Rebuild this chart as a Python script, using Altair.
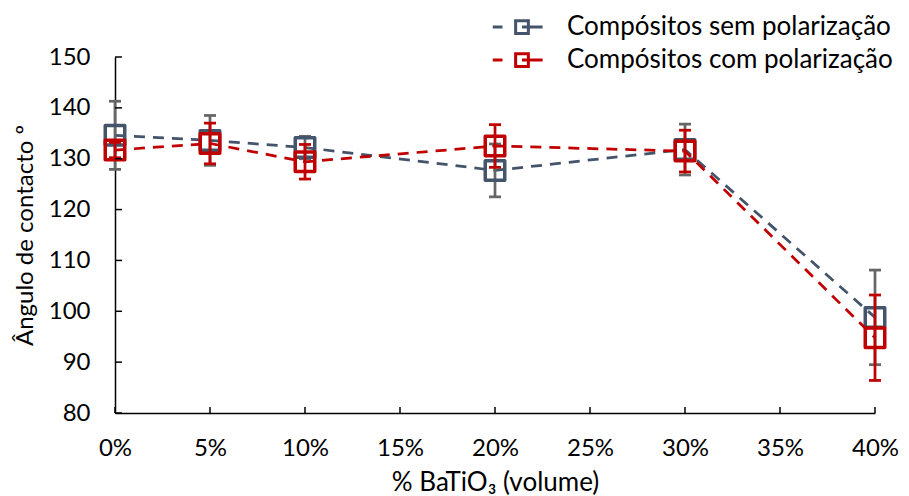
import altair as alt
import pandas as pd

# Contact angle vs BaTiO3 volume fraction, with and without poling
concentracao = [0, 5, 10, 20, 30, 40]
sem_media = [134.6, 133.6, 132.2, 127.7, 131.8, 98.8]
sem_erro = [6.7, 4.9, 2.2, 5.2, 5.0, 9.3]
com_media = [131.7, 133.0, 129.4, 132.5, 131.5, 94.8]
com_erro = [1.5, 4.0, 3.4, 4.2, 4.1, 8.4]

series = ["Compósitos sem polarização", "Compósitos com polarização"]
cores = ["#44546A", "#C00000"]
cores_erro = ["#666666", "#C00000"]

x_ticks = [0, 5, 10, 15, 20, 25, 30, 35, 40]
y_ticks = [80, 90, 100, 110, 120, 130, 140, 150]

FONT = "Lato"
FS = 24

linhas = []
for nome, medias, erros in [(series[0], sem_media, sem_erro), (series[1], com_media, com_erro)]:
    for c, m, e in zip(concentracao, medias, erros):
        linhas.append({"pct": c, "media": m, "inf": m - e, "sup": m + e, "serie": nome})
df = pd.DataFrame(linhas)

x_scale = alt.Scale(domain=[0, 40], nice=False, zero=False)
y_scale = alt.Scale(domain=[80, 150], nice=False, zero=False)
color_scale = alt.Scale(domain=series, range=cores)

x_axis = alt.Axis(
    values=x_ticks,
    labelExpr="datum.value + '%'",
    labelFlush=False,
    title="% BaTiO₃ (volume)",
    titleFontSize=26,
    grid=False,
    ticks=False,
    labelPadding=23,
    titlePadding=9,
)
y_axis = alt.Axis(
    values=y_ticks,
    labelFlush=False,
    title="Ângulo de contacto º",
    grid=False,
    ticks=False,
    labelPadding=25,
    titlePadding=11,
)

legend_path = (
    "M-3.9,0H-2.6"
    "M-0.85,-0.85H0.85V0.85H-0.85Z"
    "M0,0H2.75"
)

legenda = alt.Legend(
    title=None,
    orient="none",
    legendX=394,
    legendY=-43,
    padding=0,
    symbolType=legend_path,
    symbolSize=225,
    symbolStrokeWidth=3,
    symbolFillColor="transparent",
    labelFont=FONT,
    labelFontSize=26,
    labelColor="#000000",
    labelOffset=32,
    labelLimit=500,
    rowPadding=7,
)


def X(field):
    return alt.X(field, type="quantitative", scale=x_scale, axis=x_axis)


def Y(field):
    return alt.Y(field, type="quantitative", scale=y_scale, axis=y_axis)


base = alt.Chart(df)

camadas = []
for nome, cor, cor_e in zip(series, cores, cores_erro):
    d = base.transform_filter(alt.datum.serie == nome)
    linha = d.mark_line(strokeWidth=2.75, strokeDash=[11, 8]).encode(
        x=X("pct"), y=Y("media"), color=alt.value(cor)
    )
    barra = d.mark_rule(strokeWidth=2.75).encode(
        x=X("pct"), y=Y("inf"), y2="sup:Q", color=alt.value(cor_e)
    )
    topo = d.mark_tick(orient="horizontal", size=12, thickness=2.75, opacity=1).encode(
        x=X("pct"), y=Y("sup"), color=alt.value(cor_e)
    )
    fundo = d.mark_tick(orient="horizontal", size=12, thickness=2.75, opacity=1).encode(
        x=X("pct"), y=Y("inf"), color=alt.value(cor_e)
    )
    pontos = d.mark_point(
        shape="square", filled=False, size=380, strokeWidth=3.5, strokeJoin="round", opacity=1
    ).encode(
        x=X("pct"),
        y=Y("media"),
        color=alt.Color("serie:N", scale=color_scale, legend=legenda),
    )
    camadas += [linha, barra, topo, fundo, pontos]

# Inside tick marks on both axes
tx = alt.Chart(pd.DataFrame({"v": x_ticks})).mark_rule(color="#000000", strokeWidth=1.5).encode(
    x=X("v"),
    y=alt.value(356),
    y2=alt.value(350),
)
ty = alt.Chart(pd.DataFrame({"v": y_ticks})).mark_rule(color="#000000", strokeWidth=1.5).encode(
    y=Y("v"),
    x=alt.value(0),
    x2=alt.value(7),
)
camadas += [tx, ty]

chart = (
    alt.layer(*camadas)
    .properties(
        width=760,
        height=356,
        autosize=alt.AutoSizeParams(type="none"),
        padding={"left": 115, "top": 57, "right": 34, "bottom": 83},
        background="white",
    )
    .configure_view(stroke=None)
    .configure_axis(
        domainColor="#000000",
        domainWidth=1.5,
        labelFont=FONT,
        labelFontSize=FS,
        labelColor="#000000",
        titleFont=FONT,
        titleFontSize=FS,
        titleFontWeight="normal",
        titleColor="#000000",
    )
)

chart.save("out.html", embed_options={"renderer": "svg", "actions": False})
